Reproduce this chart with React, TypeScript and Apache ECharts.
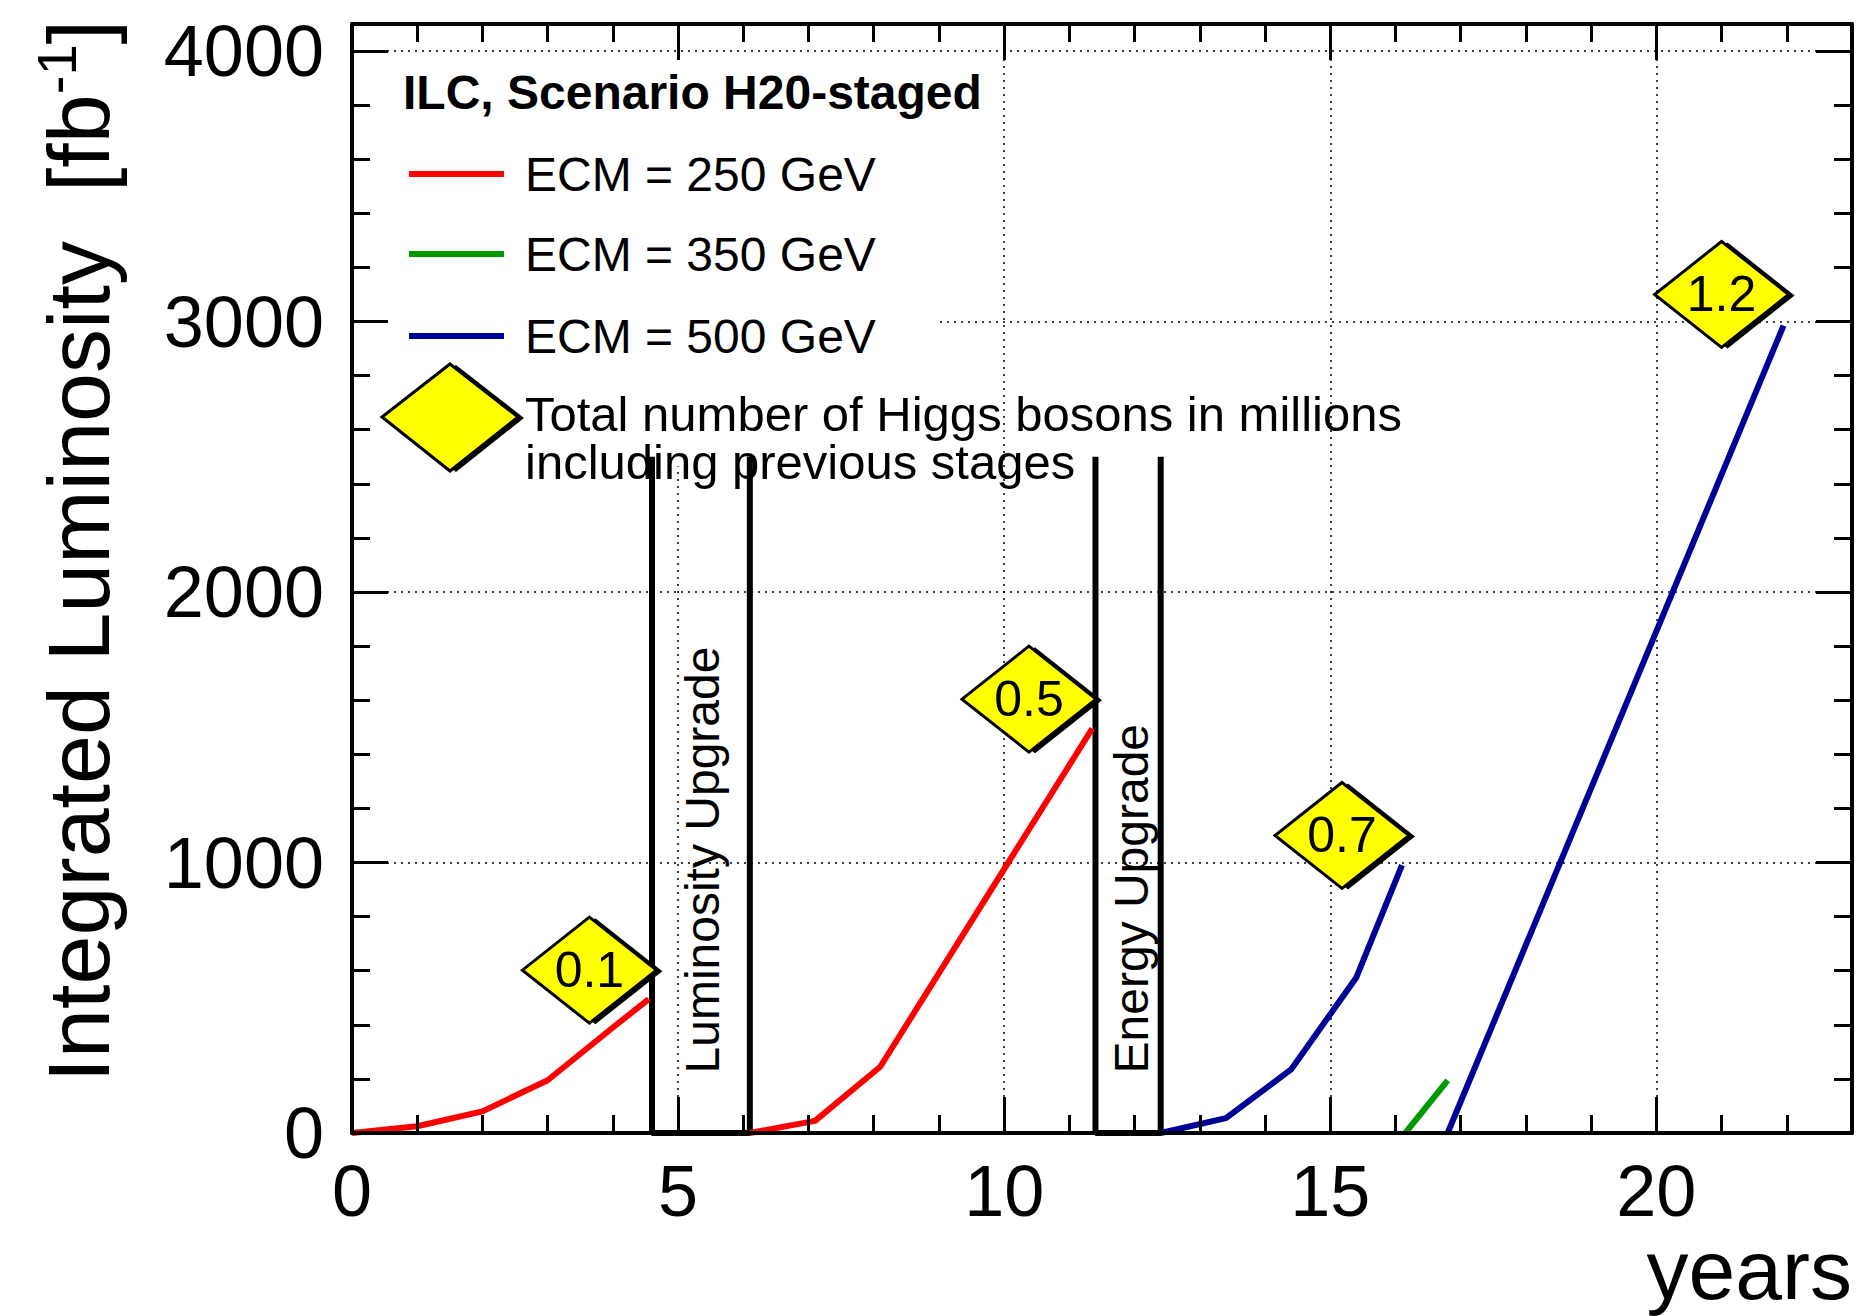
import React, { useEffect, useRef } from "react";
import * as echarts from "echarts";

const FONT = '"Liberation Sans", Arial, Helvetica, sans-serif';

const X_MIN = 0;
const X_MAX = 23;
const Y_MIN = 0;
const Y_MAX = 4100;

// luminosity curves [years, fb^-1]
const ecm250Stage1 = [[0, 0], [1, 25], [2, 80], [3, 195], [4, 390], [4.55, 495]];
const ecm250Stage2 = [[6.1, 0], [7.1, 45], [8.1, 245], [11.35, 1495]];
const ecm500Stage1 = [[12.4, 0], [13.4, 55], [14.4, 235], [15.4, 575], [16.1, 990]];
const ecm350Stage = [[16.15, 0], [16.8, 195]];
const ecm500Stage2 = [[16.8, 0], [21.95, 2985]];

// upgrade boxes
const lumiUpgradeBox = [[4.6, 2500], [4.6, 0], [6.1, 0], [6.1, 2500]];
const energyUpgradeBox = [[11.4, 2500], [11.4, 0], [12.4, 0], [12.4, 2500]];
const upgradeX = [5.37, 11.95];
const upgradeY = [220, 220];
const upgradeLabels = ["Luminosity Upgrade", "Energy Upgrade"];

// Higgs boson markers
const higgsX = [3.64, 10.38, 15.18, 21.0];
const higgsY = [602, 1604, 1100, 3100];
const higgsLabels = ["0.1", "0.5", "0.7", "1.2"];

// legend
const legendTitle = "ILC, Scenario H20-staged";
const legendLabels = ["ECM = 250 GeV", "ECM = 350 GeV", "ECM = 500 GeV"];
const legendColors = ["#ff0000", "#009900", "#000099"];
const legendDiamondText = ["Total number of Higgs bosons in millions", "including previous stages"];
const legendBoxX = [0.04, 9.0];
const legendBoxY = [2465, 3995];

const xMajorInterval = 5;
const xMinorInterval = 1;
const yMajorInterval = 1000;
const yMinorInterval = 200;

const GRID = { left: 352, top: 24, width: 1500, height: 1109 };

function makeX(position: string, interval: number, opts: any) {
  return {
    type: "value",
    min: X_MIN,
    max: X_MAX,
    position,
    interval,
    axisLine: { show: false, onZero: false },
    axisTick: { show: false },
    axisLabel: { show: false },
    splitLine: { show: false },
    ...opts,
  };
}
function makeY(position: string, interval: number, opts: any) {
  return {
    type: "value",
    min: Y_MIN,
    max: Y_MAX,
    position,
    interval,
    axisLine: { show: false, onZero: false },
    axisTick: { show: false },
    axisLabel: { show: false },
    splitLine: { show: false },
    ...opts,
  };
}

const frameLine = { show: true, onZero: false, lineStyle: { color: "#000", width: 4 } };
const majorTick = { show: true, inside: true, length: 36, lineStyle: { color: "#000", width: 3 } };
const minorTick = { show: true, inside: true, length: 18, lineStyle: { color: "#000", width: 3 } };
const gridLine = { show: true, lineStyle: { color: "#000", width: 1.5, type: [2, 5] } };

export default function App() {
  const ref = useRef<HTMLDivElement>(null);
  useEffect(() => {
    if (!ref.current) return;
    const chart = echarts.init(ref.current, null, { renderer: "svg" });

    const lineSeries = (data: number[][], color: string, width: number, extra: any = {}) => ({
      type: "line",
      data,
      xAxisIndex: 0,
      yAxisIndex: 0,
      showSymbol: false,
      symbol: "none",
      lineStyle: { color, width, opacity: 1 },
      itemStyle: { color },
      z: 3,
      ...extra,
    });

    const diamondData = higgsX.map((x, i) => ({ value: [x, higgsY[i]], name: higgsLabels[i] }));
    const upgradeData = upgradeX.map((x, i) => ({ value: [x, upgradeY[i]], name: upgradeLabels[i] }));

    const option: any = {
      animation: false,
      backgroundColor: "#ffffff",
      grid: { ...GRID, containLabel: false },
      xAxis: [
        makeX("bottom", xMajorInterval, { splitLine: gridLine, z: 0 }),
        makeX("bottom", xMajorInterval, {
          axisLine: frameLine,
          axisTick: majorTick,
          axisLabel: {
            show: true,
            showMaxLabel: false,
            fontSize: 72,
            lineHeight: 60,
            margin: 28,
            color: "#000",
            fontFamily: FONT,
          },
          z: 5,
        }),
        makeX("bottom", xMinorInterval, { axisTick: minorTick, z: 5 }),
        makeX("top", xMajorInterval, { axisLine: frameLine, axisTick: majorTick, z: 5 }),
        makeX("top", xMinorInterval, { axisTick: minorTick, z: 5 }),
      ],
      yAxis: [
        makeY("left", yMajorInterval, { splitLine: gridLine, z: 0 }),
        makeY("left", yMajorInterval, {
          axisLine: frameLine,
          axisTick: majorTick,
          axisLabel: {
            show: true,
            showMaxLabel: false,
            fontSize: 72,
            margin: 28,
            color: "#000",
            fontFamily: FONT,
            formatter: (v: number) => (v % 1000 === 0 ? String(v) : ""),
          },
          z: 5,
        }),
        makeY("left", yMinorInterval, { axisTick: minorTick, z: 5 }),
        makeY("right", yMajorInterval, { axisLine: frameLine, axisTick: majorTick, z: 5 }),
        makeY("right", yMinorInterval, { axisTick: minorTick, z: 5 }),
      ],
      series: [
        lineSeries(lumiUpgradeBox, "#000", 6, {
          markArea: {
            silent: true,
            z: 1,
            itemStyle: { color: "#ffffff", opacity: 1 },
            data: [[{ coord: [legendBoxX[0], legendBoxY[0]] }, { coord: [legendBoxX[1], legendBoxY[1]] }]],
          },
        }),
        lineSeries(energyUpgradeBox, "#000", 6),
        lineSeries(ecm250Stage1, legendColors[0], 6),
        lineSeries(ecm250Stage2, legendColors[0], 6),
        lineSeries(ecm350Stage, legendColors[1], 6),
        lineSeries(ecm500Stage1, legendColors[2], 6),
        lineSeries(ecm500Stage2, legendColors[2], 6),
        {
          type: "scatter",
          data: upgradeData,
          symbolSize: 1,
          itemStyle: { color: "rgba(0,0,0,0)", opacity: 1 },
          z: 4,
          label: {
            show: true,
            position: "inside",
            rotate: 90,
            align: "left",
            verticalAlign: "middle",
            formatter: "{b}",
            fontSize: 48,
            color: "#000",
            opacity: 1,
            fontFamily: FONT,
          },
        },
        {
          type: "scatter",
          data: diamondData,
          symbol: "diamond",
          symbolSize: [134, 106],
          symbolOffset: [6, 1],
          itemStyle: { color: "#000", opacity: 1 },
          z: 6,
        },
        {
          type: "scatter",
          data: diamondData,
          symbol: "diamond",
          symbolSize: [134, 106],
          itemStyle: { color: "#ffff00", borderColor: "#000", borderWidth: 3, opacity: 1 },
          z: 7,
          label: {
            show: true,
            position: "inside",
            formatter: "{b}",
            fontSize: 50,
            color: "#000",
            opacity: 1,
            fontFamily: FONT,
          },
        },
      ],
      graphic: [
        {
          type: "text",
          x: 78,
          y: 20,
          rotation: Math.PI / 2,
          z: 10,
          style: {
            text: "Integrated Luminosity  [fb{sup|-1}]",
            fontSize: 88,
            fontFamily: FONT,
            fill: "#000",
            align: "right",
            verticalAlign: "middle",
            lineHeight: 100,
            rich: { sup: { fontSize: 56, fontFamily: FONT, fill: "#000", verticalAlign: "top", lineHeight: 60 } },
          },
        },
        {
          type: "text",
          x: 1852,
          y: 1270,
          z: 10,
          style: {
            text: "years",
            fontSize: 84,
            lineHeight: 56,
            fontFamily: FONT,
            fill: "#000",
            align: "right",
            verticalAlign: "middle",
          },
        },
        {
          type: "text",
          x: 403,
          y: 92,
          z: 10,
          style: {
            text: legendTitle,
            fontSize: 48,
            fontWeight: "bold",
            fontFamily: FONT,
            fill: "#000",
            align: "left",
            verticalAlign: "middle",
          },
        },
        ...legendLabels.flatMap((lab, i) => {
          const y = [174, 254, 336][i];
          return [
            {
              type: "line",
              z: 10,
              shape: { x1: 409, y1: y, x2: 504, y2: y },
              style: { stroke: legendColors[i], lineWidth: 6 },
            },
            {
              type: "text",
              x: 525,
              y,
              z: 10,
              style: {
                text: lab,
                fontSize: 48,
                fontFamily: FONT,
                fill: "#000",
                align: "left",
                verticalAlign: "middle",
              },
            },
          ];
        }),
        {
          type: "polygon",
          z: 10,
          shape: { points: [[456, 365], [524, 418], [456, 472], [388, 418]] },
          style: { fill: "#000" },
        },
        {
          type: "polygon",
          z: 11,
          shape: { points: [[450, 364], [518, 417], [450, 471], [382, 417]] },
          style: { fill: "#ffff00", stroke: "#000", lineWidth: 3 },
        },
        {
          type: "text",
          x: 525,
          y: 438,
          z: 10,
          style: {
            text: legendDiamondText.join("\n"),
            fontSize: 49,
            lineHeight: 48,
            fontFamily: FONT,
            fill: "#000",
            align: "left",
            verticalAlign: "middle",
          },
        },
      ],
    };

    chart.setOption(option);
    return () => chart.dispose();
  }, []);

  return (
    <div
      ref={ref}
      style={{ position: "absolute", left: 0, top: 0, width: 1860, height: 1316, background: "#fff" }}
    />
  );
}
